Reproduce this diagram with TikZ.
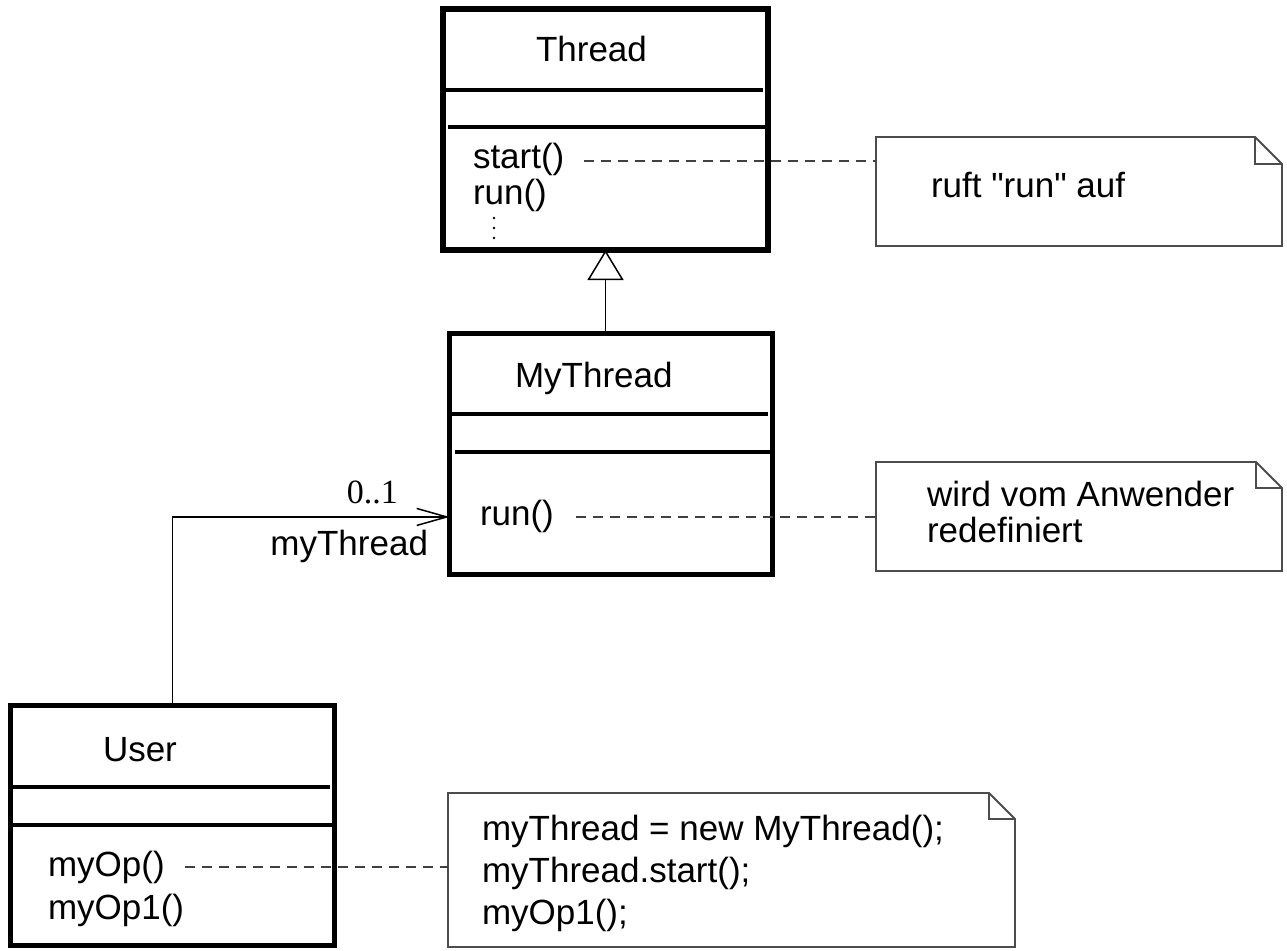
\documentclass[tikz,border=0pt]{standalone}
\usepackage{fontspec}
\setmainfont{Liberation Sans}
% same face without TeX ligatures, so that " stays a straight quote
\newfontfamily\straightsans{Liberation Sans}
\newfontfamily\multfont{Liberation Serif}
\usetikzlibrary{arrows.meta}

\tikzset{
  classbox/.style={draw=black, line width=5.5pt, minimum width=#1, inner sep=0pt, outer sep=0pt},
  sepline/.style={line width=4pt},
  txt/.style={anchor=base west, inner sep=0pt, outer sep=0pt, font=\fontsize{35}{42}\selectfont},
  notearea/.style={inner sep=0pt, outer sep=0pt},
  noteline/.style={draw=black!70, line width=1.8pt, line join=miter},
  notelink/.style={draw=black!75, line width=1.5pt, dash pattern=on 10pt off 7pt},
  assoc/.style={line width=1.5pt, -{Straight Barb[length=30pt, width=17pt, line width=1.5pt]}},
  gen/.style={line width=1.5pt, -{Triangle[open, length=30pt, width=36pt, line width=1.5pt]}}
}

% outline of a UML note with a folded corner
\newcommand\umlnote[2]{%
  \draw[noteline] (#1.north west) -- ([xshift=-#2]#1.north east)
    -- ([yshift=-#2]#1.north east) -- (#1.south east) -- (#1.south west) -- cycle;
  \draw[noteline] ([xshift=-#2]#1.north east) |- ([yshift=-#2]#1.north east);}

\begin{document}
\begin{tikzpicture}[x=1pt, y=-1pt]
\useasboundingbox (0,0) rectangle (1287,950);

% ---------- class Thread ----------
\node[classbox=325pt, minimum height=241pt] (thread) at (605.5,129.5) {};
\draw[sepline] (445,90) -- (763,90);
\draw[sepline] (448,127) -- (768,127);
\node[txt] (threadname) at (536,62) {Thread};
\node[txt] (tstart) at (473,168) {start()};
\node[txt] (trun) at (473,204) {run()};
\fill (494,218) circle (1.4pt) (494,228) circle (1.4pt) (494,238) circle (1.4pt);

% ---------- class MyThread ----------
\node[classbox=323pt, minimum height=241pt, line width=5pt] (mythread) at (611,454) {};
\draw[sepline] (452,414) -- (768,414);
\draw[sepline] (455,452) -- (772,452);
\node[txt] (mythreadname) at (515,387) {MyThread};
\node[txt] (mrun) at (480,525) {run()};

% ---------- class User ----------
\node[classbox=324pt, minimum height=240pt, line width=5pt] (user) at (172.5,825.5) {};
\draw[line width=4.5pt] (13,787) -- (330,787);
\draw[line width=3.5pt] (8,825) -- (334,825);
\node[txt] (username) at (103,761) {User};
\node[txt] (myop) at (48,876) {myOp()};
\node[txt] (myopone) at (48,919) {myOp1()};

% ---------- notes ----------
\node[notearea, minimum width=406pt, minimum height=109pt] (note1) at (1079,191.5) {};
\umlnote{note1}{27pt}
\node[txt, font=\straightsans\fontsize{35}{42}\selectfont] (note1text) at (931,197) {ruft "run" auf};

\node[notearea, minimum width=406pt, minimum height=109pt] (note2) at (1079,516.5) {};
\umlnote{note2}{26pt}
\node[txt] (note2a) at (927,506) {wird vom Anwender};
\node[txt] (note2b) at (927,542) {redefiniert};

\node[notearea, minimum width=567pt, minimum height=154pt] (note3) at (731.5,870) {};
\umlnote{note3}{26pt}
\node[txt] (note3a) at (482,840) {myThread = new MyThread();};
\node[txt] (note3b) at (482,882) {myThread.start();};
\node[txt] (note3c) at (482,924) {myOp1();};

% ---------- note links ----------
\draw[notelink] ([xshift=20pt, yshift=-2pt]tstart.east) -- ([yshift=-2pt]note1.west |- tstart.east);
\draw[notelink] ([xshift=22pt, yshift=-1pt]mrun.east) -- ([yshift=-1pt]note2.west |- mrun.east);
\draw[notelink] ([xshift=20pt]myop.east) -- (note3.west |- myop.east);

% ---------- generalization MyThread -> Thread ----------
\draw[gen] (mythread.north -| thread.south) -- (thread.south);

% ---------- association User -> MyThread ----------
\coordinate (assocrow) at ([yshift=-1pt]mrun.east);
\draw[assoc] (user.north) |- (mythread.west |- assocrow);
\node[anchor=base east, inner sep=0pt, font=\multfont\fontsize{34}{40}\selectfont] (mult) at (398,503) {0..1};
\node[txt, anchor=base east] (role) at (428,555) {myThread};

\end{tikzpicture}
\end{document}
